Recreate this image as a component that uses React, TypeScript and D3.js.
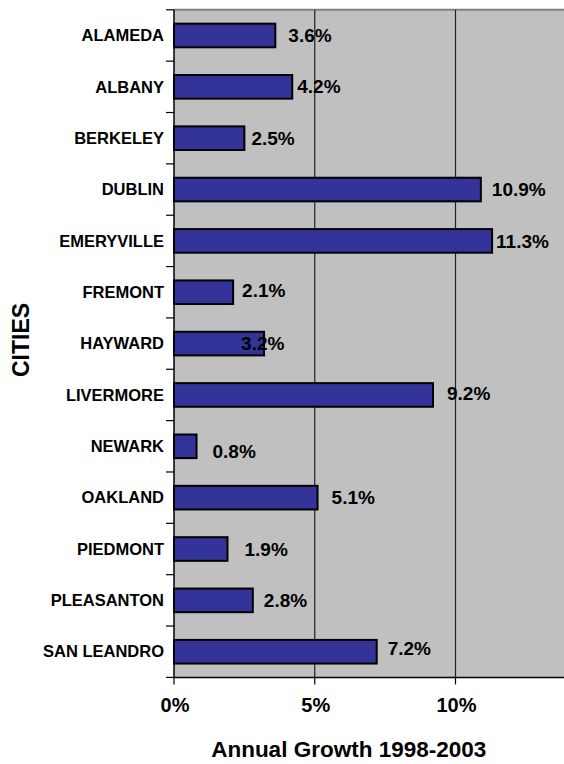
import React, { useEffect, useRef } from "react";
import * as d3 from "d3";

// Data
const cities = [
  "ALAMEDA",
  "ALBANY",
  "BERKELEY",
  "DUBLIN",
  "EMERYVILLE",
  "FREMONT",
  "HAYWARD",
  "LIVERMORE",
  "NEWARK",
  "OAKLAND",
  "PIEDMONT",
  "PLEASANTON",
  "SAN LEANDRO",
];
const growth = [3.6, 4.2, 2.5, 10.9, 11.3, 2.1, 3.2, 9.2, 0.8, 5.1, 1.9, 2.8, 7.2];
const xTicks = [0, 5, 10];

// Hand-placed label nudges (the original labels were moved by hand)
const labelDx = [13, 5, 7, 11, 4, 9, -23, 14, 16, 14, 17, 11, 11];
const labelDy = [0, 0, 0, 0, 0, -2, 0, -2, 5, 0, 0, 0, -3];

const FONT = "'Liberation Sans', Arial, sans-serif";

const App = () => {
  const svgRef = useRef<SVGSVGElement>(null);

  useEffect(() => {
    document.body.style.margin = "0";
    const svg = d3.select(svgRef.current);
    svg.selectAll("*").remove();

    const left = 174;
    const top = 9.8;
    const bottom = 677.4;

    const x = d3.scaleLinear().domain([0, 14]).range([left, left + 14 * 28.15]);
    const y = d3
      .scaleBand<string>()
      .domain(cities)
      .range([top, bottom])
      .paddingInner(0.54)
      .paddingOuter(0.27);

    // Plot background
    svg
      .append("rect")
      .attr("x", left)
      .attr("y", top)
      .attr("width", 600 - left)
      .attr("height", bottom - top)
      .attr("fill", "#C0C0C0");

    svg
      .append("line")
      .attr("x1", left)
      .attr("x2", 600)
      .attr("y1", top)
      .attr("y2", top)
      .attr("stroke", "#808080")
      .attr("stroke-width", 2);

    // Gridlines
    svg
      .append("g")
      .selectAll("line")
      .data(xTicks.filter((t) => t > 0))
      .enter()
      .append("line")
      .attr("x1", (d) => x(d))
      .attr("x2", (d) => x(d))
      .attr("y1", top)
      .attr("y2", bottom)
      .attr("stroke", "#222")
      .attr("stroke-width", 1.2);

    // Bars
    svg
      .append("g")
      .selectAll("rect")
      .data(cities)
      .enter()
      .append("rect")
      .attr("x", x(0))
      .attr("y", (d) => y(d)!)
      .attr("width", (d, i) => x(growth[i]) - x(0))
      .attr("height", y.bandwidth())
      .attr("fill", "#333399")
      .attr("stroke", "#000")
      .attr("stroke-width", 2);

    // Y axis
    const step = y.step();
    const boundaries = d3.range(cities.length + 1).map((i) => top + i * step);
    svg
      .append("line")
      .attr("x1", left)
      .attr("x2", left)
      .attr("y1", top)
      .attr("y2", bottom)
      .attr("stroke", "#000")
      .attr("stroke-width", 1.5);
    svg
      .append("g")
      .selectAll("line")
      .data(boundaries)
      .enter()
      .append("line")
      .attr("x1", left - 8)
      .attr("x2", left)
      .attr("y1", (d) => d)
      .attr("y2", (d) => d)
      .attr("stroke", "#000")
      .attr("stroke-width", 1.2);

    svg
      .append("g")
      .selectAll("text")
      .data(cities)
      .enter()
      .append("text")
      .attr("x", 164)
      .attr("y", (d) => y(d)! + y.bandwidth() / 2)
      .attr("dy", "0.35em")
      .attr("text-anchor", "end")
      .style("font-family", FONT)
      .style("font-weight", "bold")
      .style("font-size", "16.5px")
      .text((d) => d);

    // X axis
    svg
      .append("line")
      .attr("x1", left)
      .attr("x2", 600)
      .attr("y1", bottom)
      .attr("y2", bottom)
      .attr("stroke", "#000")
      .attr("stroke-width", 1.5);
    svg
      .append("g")
      .selectAll("line")
      .data(xTicks)
      .enter()
      .append("line")
      .attr("x1", (d) => x(d))
      .attr("x2", (d) => x(d))
      .attr("y1", bottom)
      .attr("y2", bottom + 7)
      .attr("stroke", "#000")
      .attr("stroke-width", 1.2);
    svg
      .append("g")
      .selectAll("text")
      .data(xTicks)
      .enter()
      .append("text")
      .attr("x", (d) => x(d) + 1)
      .attr("y", 711.5)
      .attr("text-anchor", "middle")
      .style("font-family", FONT)
      .style("font-weight", "bold")
      .style("font-size", "20px")
      .text((d) => `${d}%`);

    // Data labels
    svg
      .append("g")
      .selectAll("text")
      .data(cities)
      .enter()
      .append("text")
      .attr("x", (d, i) => x(growth[i]) + labelDx[i])
      .attr("y", (d, i) => y(d)! + y.bandwidth() / 2 + labelDy[i])
      .attr("dy", "0.35em")
      .style("font-family", FONT)
      .style("font-weight", "bold")
      .style("font-size", "19px")
      .text((d, i) => `${growth[i].toFixed(1)}%`);

    // Axis titles
    svg
      .append("text")
      .attr("x", 348.7)
      .attr("y", 757)
      .attr("text-anchor", "middle")
      .style("font-family", FONT)
      .style("font-weight", "bold")
      .style("font-size", "22.5px")
      .text("Annual Growth 1998-2003");

    svg
      .append("text")
      .attr("transform", "translate(28.5, 340) rotate(-90)")
      .attr("text-anchor", "middle")
      .style("font-family", FONT)
      .style("font-weight", "bold")
      .style("font-size", "23px")
      .text("CITIES");
  }, []);

  return <svg ref={svgRef} width={564} height={764} style={{ display: "block" }} />;
};

export default App;
